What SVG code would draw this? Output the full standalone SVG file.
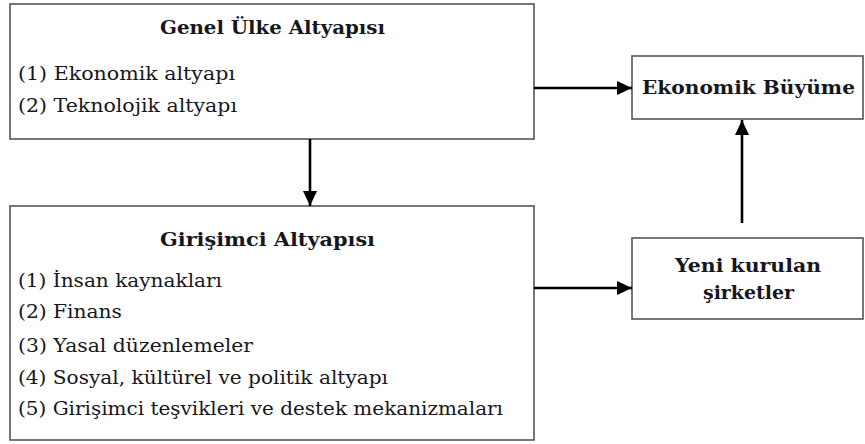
<svg xmlns="http://www.w3.org/2000/svg" width="865" height="444" viewBox="0 0 865 444">
<style>
.box{fill:#fff;stroke:#555;stroke-width:1.6}
.t{font-family:"DejaVu Serif","Liberation Serif",serif;font-size:18px;fill:#161620}
.b{font-weight:bold}
.c{stroke:#000;stroke-width:2.6;fill:none;marker-end:url(#ah)}
</style>
<defs>
<marker id="ah" markerUnits="userSpaceOnUse" markerWidth="15" markerHeight="14" refX="15" refY="7" orient="auto">
<path d="M0,0 L15,7 L0,14 z" fill="#000"/>
</marker>
</defs>
<rect width="865" height="444" fill="#fff"/>
<g id="genel">
<rect class="box" x="10" y="4" width="524" height="135"/>
<text class="t b" x="160" y="34" textLength="225" lengthAdjust="spacingAndGlyphs">Genel Ülke Altyapısı</text>
<text class="t" x="18" y="80" textLength="217" lengthAdjust="spacingAndGlyphs">(1) Ekonomik altyapı</text>
<text class="t" x="18" y="112" textLength="219" lengthAdjust="spacingAndGlyphs">(2) Teknolojik altyapı</text>
</g>
<g id="girisimci">
<rect class="box" x="10" y="206" width="524" height="234"/>
<text class="t b" x="160" y="246" textLength="215" lengthAdjust="spacingAndGlyphs">Girişimci Altyapısı</text>
<text class="t" x="18" y="287" textLength="204" lengthAdjust="spacingAndGlyphs">(1) İnsan kaynakları</text>
<text class="t" x="18" y="318" textLength="104" lengthAdjust="spacingAndGlyphs">(2) Finans</text>
<text class="t" x="18" y="352" textLength="235" lengthAdjust="spacingAndGlyphs">(3) Yasal düzenlemeler</text>
<text class="t" x="18" y="384" textLength="370" lengthAdjust="spacingAndGlyphs">(4) Sosyal, kültürel ve politik altyapı</text>
<text class="t" x="18" y="415" textLength="485" lengthAdjust="spacingAndGlyphs">(5) Girişimci teşvikleri ve destek mekanizmaları</text>
</g>
<g id="ekonomik">
<rect class="box" x="632" y="56" width="231" height="63"/>
<text class="t b" x="642" y="94" textLength="213" lengthAdjust="spacingAndGlyphs">Ekonomik Büyüme</text>
</g>
<g id="yeni">
<rect class="box" x="632" y="238" width="231" height="81"/>
<text class="t b" x="675" y="272" textLength="146" lengthAdjust="spacingAndGlyphs">Yeni kurulan</text>
<text class="t b" x="703" y="299" textLength="91" lengthAdjust="spacingAndGlyphs">şirketler</text>
</g>
<g id="connectors">
<line class="c" x1="310" y1="139" x2="310" y2="206"/>
<line class="c" x1="534" y1="88" x2="632" y2="88"/>
<line class="c" x1="534" y1="288" x2="632" y2="288"/>
<line class="c" x1="742" y1="223" x2="742" y2="120"/>
</g>
</svg>
